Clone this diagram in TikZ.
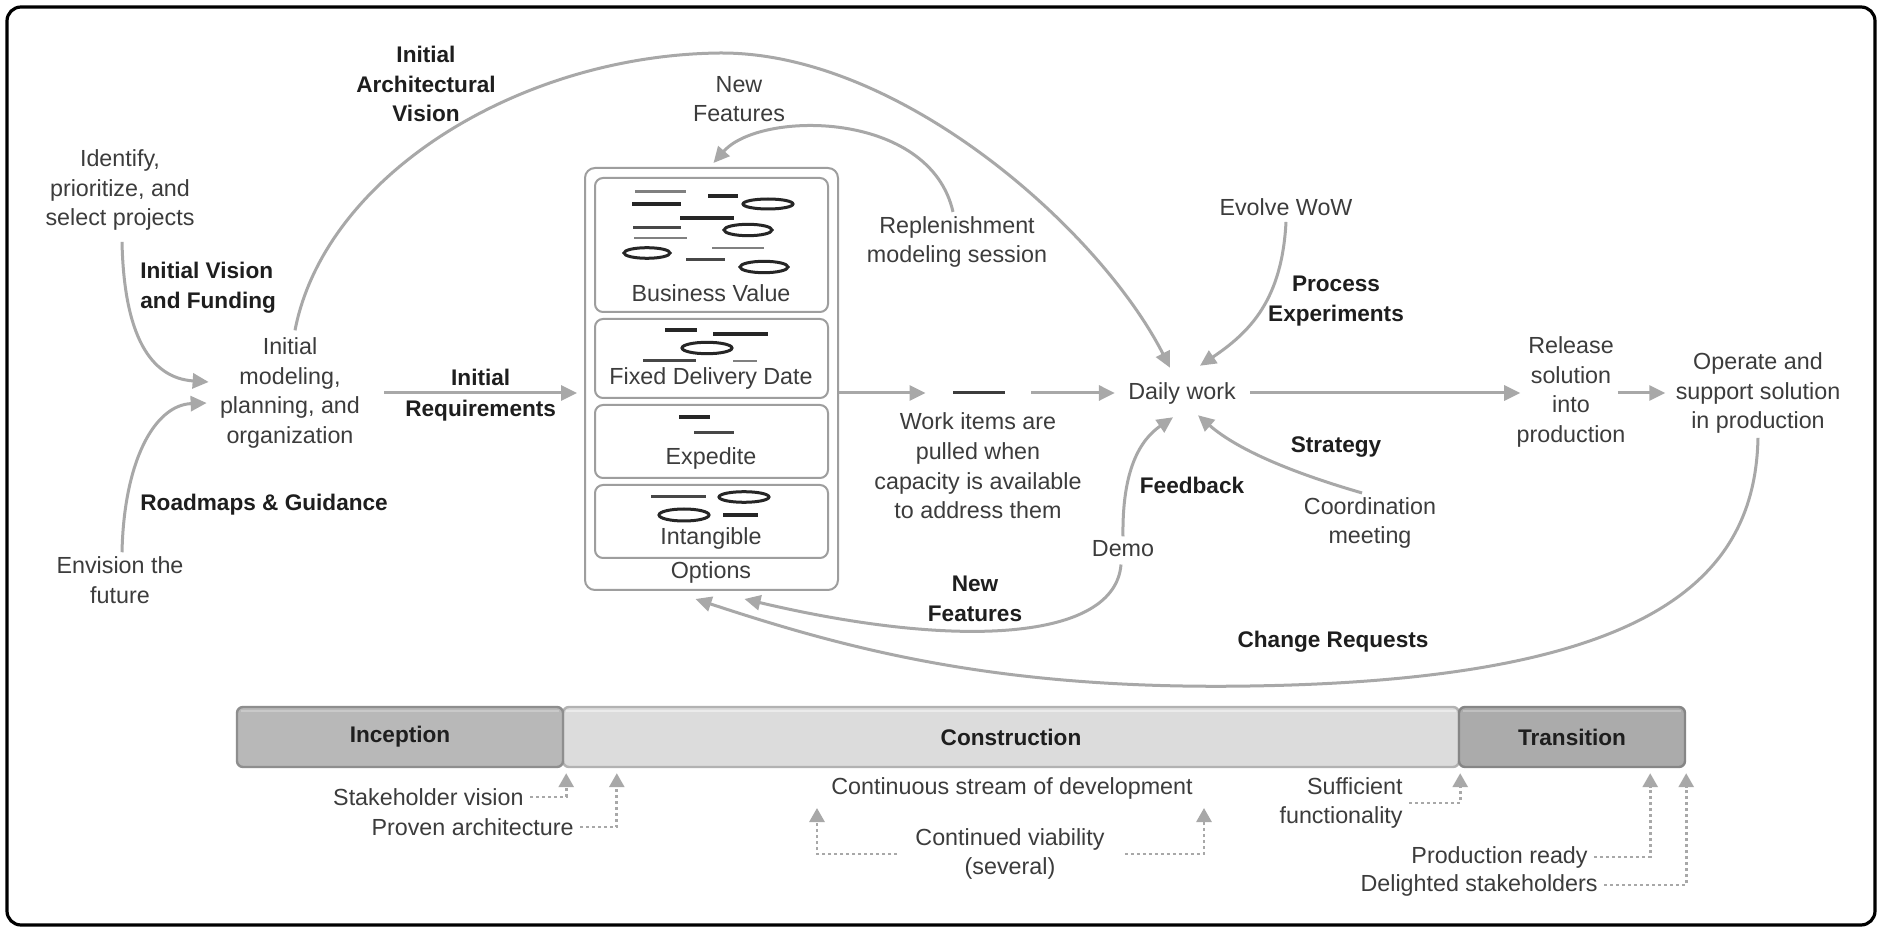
\documentclass[tikz,border=0pt]{standalone}
\usepackage{fontspec}
\setmainfont{Liberation Sans}
\usetikzlibrary{arrows.meta,calc}

\definecolor{ink}{HTML}{3C3C3C}
\definecolor{inkb}{HTML}{1E1E1E}
\definecolor{flowgray}{HTML}{A8A8A8}
\definecolor{framegray}{HTML}{9E9E9E}
\definecolor{glyph}{HTML}{262626}
\definecolor{glyphlt}{HTML}{808080}
\definecolor{incfill}{HTML}{B8B8B8}
\definecolor{incline}{HTML}{8E8E8E}
\definecolor{confill}{HTML}{DCDCDC}
\definecolor{conline}{HTML}{B2B2B2}
\definecolor{trafill}{HTML}{ABABAB}
\definecolor{traline}{HTML}{868686}

\begin{document}
\begin{tikzpicture}[x=0.5pt,y=-0.5pt,
  txt/.style={font=\fontsize{11.65pt}{14.8pt}\selectfont, text=ink, align=center, inner sep=2pt},
  lbl/.style={font={\bfseries\fontsize{11.3pt}{14.8pt}\selectfont}, text=inkb, align=center, inner sep=2pt},
  flow/.style={draw=flowgray, line width=1.5pt, -{Triangle[length=8pt,width=7.5pt]}},
  milestone/.style={draw=flowgray, line width=1.4pt, dash pattern=on 1.5pt off 1.5pt,
    -{Triangle[length=7pt,width=7.5pt]}},
  kindbox/.style={draw=framegray, line width=1pt, rounded corners=4pt,
    minimum width=116.5pt, inner sep=0pt},
  phase/.style={lbl, line width=1.2pt, rounded corners=3pt, minimum height=30pt, inner sep=0pt},
  gthick/.style={draw=glyph, line width=2pt},
  gmid/.style={draw=glyph!85!white, line width=1.5pt},
  gthin/.style={draw=glyphlt, line width=1.2pt},
  gring/.style={draw=glyph, line width=1.5pt},
]
\useasboundingbox (0,0) rectangle (1881,930);
\fill[white] (0,0) rectangle (1881,930);
\draw[black, line width=1.6pt, rounded corners=7pt] (7,7) rectangle (1875,925);

% ---------- inception side ----------
\node[lbl] (archlbl) at (426,84) {Initial\\Architectural\\Vision};
\node[txt] (identify) at (120,190) {Identify,\\prioritize, and\\select projects};
\node[lbl, align=left, anchor=west] (ivf) at (136,288) {Initial Vision\\and Funding};
\node[txt] (initmod) at (290,393) {Initial\\modeling,\\planning, and\\organization};
\node[lbl, anchor=west] (rmd) at (136,505) {Roadmaps \& Guidance};
\node[txt] (envision) at (120,580) {Envision the\\future};

% ---------- options (work item pool) ----------
\node[draw=framegray, line width=1pt, rounded corners=5pt, minimum width=126.5pt,
      minimum height=211pt, inner sep=0pt] (options) at (711.5,379) {};
\node[kindbox, minimum height=67pt] (bv) at (711.5,245) {};
\node[kindbox, minimum height=39.5pt] (fdd) at (711.5,358.5) {};
\node[kindbox, minimum height=36.5pt] (exped) at (711.5,441.5) {};
\node[kindbox, minimum height=36.5pt] (intg) at (711.5,521.5) {};
\node[txt] (bvlbl) at (711,293) {Business Value};
\node[txt] (fddlbl) at (711,378) {Fixed Delivery Date};
\node[txt] (explbl) at (711,458) {Expedite};
\node[txt] (intlbl) at (711,538) {Intangible};
\node[txt] (optlbl) at (711,572) {Options};

% work item glyphs: business value
\draw[gthin] (635,191.7) -- (686,191.7);
\draw[gthick] (708,196) -- (738,196);
\draw[gthick] (632,204) -- (681,204);
\draw[gring] (768,204) ellipse [x radius=25, y radius=5];
\draw[gthick] (680,217.7) -- (734,217.7);
\draw[gmid] (633,228) -- (681,228);
\draw[gring] (748,230) ellipse [x radius=24, y radius=5.7];
\draw[gthin] (634,238) -- (687,238);
\draw[gthin] (712,248) -- (764,248);
\draw[gring] (647,253) ellipse [x radius=23, y radius=5.3];
\draw[gmid] (686,260) -- (725,260);
\draw[gring] (764,267) ellipse [x radius=24, y radius=5.7];
% fixed delivery date
\draw[gthick, line width=2.4pt] (665,330) -- (697,330);
\draw[gthick] (713,334) -- (768,334);
\draw[gring] (707,348) ellipse [x radius=25, y radius=5.7];
\draw[gmid] (643,361) -- (696,361);
\draw[gthin] (733,361) -- (757,361);
% expedite
\draw[gthick] (679,417) -- (710,417);
\draw[gmid] (694,433) -- (734,433);
% intangible
\draw[gmid] (651,497) -- (706,497);
\draw[gring] (744,497) ellipse [x radius=25, y radius=5.3];
\draw[gring] (684,515) ellipse [x radius=25, y radius=6];
\draw[gthick] (723,515) -- (758,515);

% ---------- construction side ----------
\node[txt] (nftop) at (739,99) {New\\Features};
\node[txt] (repl) at (957,242) {Replenishment\\modeling session};
\node[fill=glyph!90!white, minimum width=26pt, minimum height=1.5pt, inner sep=0pt] (wi) at (979,393) {};
\node[txt] (workitems) at (978,466) {Work items are\\pulled when\\capacity is available\\to address them};
\node[txt] (daily) at (1182,393) {Daily work};
\node[txt] (evolve) at (1286,207) {Evolve WoW};
\node[lbl] (procexp) at (1336,301) {Process\\Experiments};
\node[lbl] (strategy) at (1336,447) {Strategy};
\node[txt] (coord) at (1370,523) {Coordination\\meeting};
\node[lbl] (feedback) at (1192,485) {Feedback};
\node[txt] (demo) at (1123,549) {Demo};
\node[lbl] (nfbot) at (975,599) {New\\Features};
\node[txt] (release) at (1571,392) {Release\\solution\\into\\production};
\node[txt] (operate) at (1758,393) {Operate and\\support solution\\in production};
\node[lbl] (chreq) at (1333,642) {Change Requests};

% ---------- flows ----------
\draw[flow] ($(identify.south)+(2,7)$) .. controls (124,335) and (150,378) .. ($(initmod.west)+(-7,-11)$);
\draw[flow] ($(envision.north)+(2,0)$) .. controls (124,460) and (155,405) .. ($(initmod.west)+(-9,10)$);
\draw[flow] ($(initmod.north)+(5,-3)$) .. controls (325,175) and (520,55) .. (720,53)
            .. controls (900,52) and (1100,230) .. ($(daily.north)+(-12,-10)$);
\draw[flow] ($(initmod.east)+(20,0)$) -- ($(options.west |- initmod.east)+(-7,0)$)
      node[midway, lbl, above=1pt] {Initial} node[midway, lbl, below=1pt] {Requirements};
\draw[flow] ($(repl.north)+(-4,0)$) .. controls (930,110) and (760,110) .. ($(options.north)+(2,-4)$);
\draw[flow] (options.east |- wi) -- ($(wi.west)+(-27,0)$);
\draw[flow] ($(wi.east)+(26,0)$) -- ($(daily.west)+(-9,0)$);
\draw[flow] ($(evolve.south)+(0,2)$) .. controls (1282,300) and (1250,332) .. ($(daily.north)+(18,-12)$);
\draw[flow] ($(coord.north)+(-8,0)$) .. controls (1300,475) and (1240,452) .. ($(daily.south)+(16,7)$);
\draw[flow] (demo.north) .. controls (1122,470) and (1140,440) .. ($(daily.south)+(-9,9)$);
\draw[flow] ($(demo.south)+(-2,3)$) .. controls (1115,640) and (960,650) .. ($(options.south)+(33,8)$);
\draw[flow] ($(daily.east)+(10,0)$) -- ($(release.west |- daily.east)+(8,0)$);
\draw[flow] ($(release.east |- daily.east)+(-12,0)$) -- ($(operate.west |- daily.east)+(-6,0)$);
\draw[flow] (operate.south) .. controls (1755,580) and (1650,680) .. (1250,686)
            .. controls (1000,690) and (850,650) .. ($(options.south)+(-16,8)$);

% ---------- phases ----------
\node[phase, draw=conline, fill=confill, minimum width=448pt] (constr) at (1011,737) {Construction};
\node[phase, draw=incline, fill=incfill, minimum width=163pt] (incep) at (400,737) {Inception};
\node[phase, draw=traline, fill=trafill, minimum width=113pt] (trans) at (1572,737) {Transition};
\draw[white, opacity=.45, line width=1.2pt] ($(constr.north west)+(4,5)$) -- ($(constr.north east)+(-4,5)$);
\draw[white, opacity=.25, line width=1.2pt] ($(incep.north west)+(5,5)$) -- ($(incep.north east)+(-5,5)$);
\draw[white, opacity=.25, line width=1.2pt] ($(trans.north west)+(5,5)$) -- ($(trans.north east)+(-5,5)$);

% ---------- milestones ----------
\node[txt, anchor=east] (sv) at (528,797) {Stakeholder vision};
\node[txt, anchor=east] (pa) at (578,827) {Proven architecture};
\node[txt] (cs) at (1012,788) {Continuous stream of development};
\node[txt] (cv) at (1010,854) {Continued viability\\(several)};
\node[txt, align=right, anchor=east] (sf) at (1407,803) {Sufficient\\functionality};
\node[txt, anchor=east] (pr) at (1592,857) {Production ready};
\node[txt, anchor=east] (ds) at (1602,885) {Delighted stakeholders};
\coordinate (cvl) at (817,808);
\coordinate (cvr) at (1204,808);

\draw[milestone] ($(sv.east)+(2,0)$) -| ($(incep.south east)+(2,5)$);
\draw[milestone] ($(pa.east)+(2,0)$) -| ($(constr.south west)+(55,5)$);
\draw[milestone] ($(cv.west)+(-14,0)$) -| (cvl);
\draw[milestone] ($(cv.east)+(16,0)$) -| (cvr);
\draw[milestone] ($(sf.east)+(2,0)$) -| ($(constr.south east)+(0,5)$);
\draw[milestone] ($(pr.east)+(2,0)$) -| ($(trans.south east)+(-36,5)$);
\draw[milestone] ($(ds.east)+(2,0)$) -| ($(trans.south east)+(0,5)$);
\end{tikzpicture}
\end{document}
